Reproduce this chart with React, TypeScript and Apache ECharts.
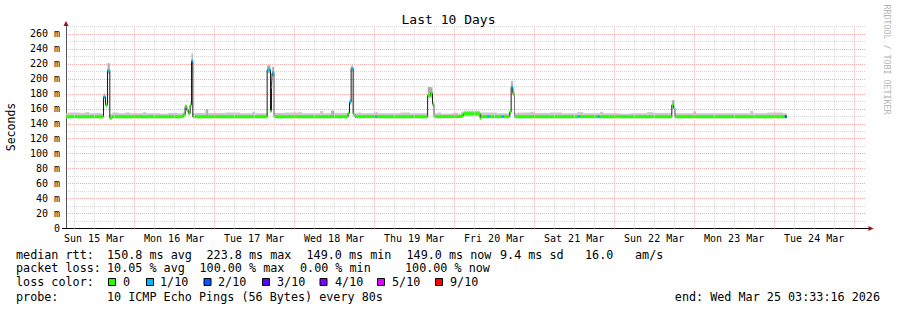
import React, { useEffect, useRef } from 'react';
import * as echarts from 'echarts';

// ---------- texts ----------
const TITLE = 'Last 10 Days';
const Y_NAME = 'Seconds';
const WATERMARK = 'RRDTOOL / TOBI OETIKER';

// ---------- axes (hours since Sun 15 Mar 2026 00:00) ----------
const X_MIN = 3.5544; // Sun 15 Mar 03:33:16
const X_MAX = 243.5544; // Wed 25 Mar 03:33:16
const Y_MIN = 0;
const Y_MAX = 270;
const Y_STEP = 10;

const dayLabels = ['Sun 15 Mar', 'Mon 16 Mar', 'Tue 17 Mar', 'Wed 18 Mar', 'Thu 19 Mar', 'Fri 20 Mar', 'Sat 21 Mar', 'Sun 22 Mar', 'Mon 23 Mar', 'Tue 24 Mar'];
const dayNoonHours = [12, 36, 60, 84, 108, 132, 156, 180, 204, 228];
const gridHours = [6, 12, 18, 24, 30, 36, 42, 48, 54, 60, 66, 72, 78, 84, 90, 96, 102, 108, 114, 120, 126, 132, 138, 144, 150, 156, 162, 168, 174, 180, 186, 192, 198, 204, 210, 216, 222, 228, 234, 240];
const midnightHours = [24, 48, 72, 96, 120, 144, 168, 192, 216, 240];

// ---------- median rtt (ms), step start times, loss in tenths ----------
const medianTimes = [3.6, 14.8, 15.4, 16.0, 16.7, 17.4, 38.7, 39.3, 39.8, 40.3, 40.8, 41.2, 41.6, 63.9, 64.9, 65.2, 65.4, 66.0, 88.2, 88.6, 89.1, 89.7, 90.2, 96.3, 96.8, 112.05, 112.9, 113.5, 114.0, 122.1, 122.8, 127.8, 128.1, 130.0, 130.6, 134.3, 134.9, 136.7, 137.1, 137.6, 138.1, 157.1, 157.7, 163.1, 163.7, 185.3, 185.8, 186.2, 219.2];
const medianValues = [149.5, 176, 165, 211, 147.5, 149.5, 152, 163, 158, 154, 165, 224, 149.5, 212, 157, 189, 208, 149.5, 154, 169, 214, 153, 149.5, 149.5, 149.5, 178, 181, 166, 149.5, 151, 153.5, 147.5, 149.5, 149.5, 149.5, 149.5, 149.5, 156, 189, 180.5, 149.5, 149.5, 149.5, 149.5, 149.5, 165, 161, 149.5, 149.5];
const medianLoss = [0, 1, 0, 1, 0, 0, 0, 0, 0, 0, 0, 1, 0, 1, 0, 0, 1, 0, 0, 1, 1, 0, 0, 1, 0, 0, 0, 0, 0, 0, 0, 0, 0, 1, 0, 1, 0, 0, 1, 0, 0, 1, 0, 1, 0, 0, 1, 0, 2];
const MEDIAN_END = 219.8;

// ---------- smoke (ms): step start, low, high ----------
const smokeTimes = [3.6, 4.2, 7.8, 9.3, 10.5, 12.9, 14.1, 14.8, 15.4, 16.0, 16.7, 17.4, 19.2, 21.3, 22.8, 26.7, 27.6, 31.8, 34.2, 37.2, 38.7, 39.3, 39.8, 40.3, 40.8, 41.2, 41.6, 42.0, 45.45, 46.2, 51.3, 55.8, 59.4, 60.3, 63.9, 64.9, 65.2, 65.4, 66.0, 69.3, 73.2, 74.4, 79.8, 80.7, 83.1, 84.0, 88.2, 88.6, 89.1, 89.7, 90.2, 90.9, 92.1, 96.3, 97.2, 103.8, 106.8, 112.05, 113.5, 114.0, 115.2, 116.1, 119.4, 121.2, 122.1, 122.8, 127.8, 132.9, 136.7, 137.1, 137.6, 138.1, 138.9, 142.8, 144.0, 148.8, 152.4, 156.9, 158.7, 163.8, 164.7, 169.8, 172.8, 177.9, 179.7, 185.3, 186.2, 186.9, 191.7, 192.6, 208.8, 209.7, 213.9, 218.7];
const smokeLows = [148, 148, 148, 148, 148, 148, 148, 173, 162, 207, 148, 148, 148, 148, 148, 148, 148, 148, 148, 148, 149, 160, 155, 151, 162, 220, 148, 148, 148, 148, 148, 148, 148, 148, 208, 154, 186, 204, 148, 148, 148, 148, 148, 148, 148, 148, 151, 165, 210, 150, 148, 148, 148, 148, 148, 148, 148, 175, 163, 148, 148, 148, 148, 148, 148, 150, 148, 148, 153, 185, 177, 148, 148, 148, 148, 148, 148, 148, 148, 148, 148, 148, 148, 148, 148, 162, 148, 148, 148, 148, 148, 148, 148, 148];
const smokeHighs = [154, 155, 154.5, 155.5, 154, 154.5, 153.5, 181, 168, 221, 153, 155, 154, 155, 154, 155.5, 154, 153.5, 154.5, 154, 156, 166, 160, 157, 168, 234, 154, 154.5, 159.5, 154.5, 155, 154, 156, 154, 218, 160, 192, 216, 154.5, 155, 155.5, 154, 157, 154, 157.5, 154.5, 157, 173, 218, 157, 154, 155, 154, 155.5, 154, 155, 154, 189, 169, 154, 155, 153.5, 154.5, 153.5, 156, 157.5, 155, 154, 160, 197, 184, 154.5, 155, 156, 154.5, 155, 154, 155.5, 154, 156, 154, 153.5, 154, 155.5, 154.5, 171.5, 154.5, 154, 156.5, 154, 157, 154, 155, 154];
const SMOKE_END = 219.8;

// ---------- legend texts ----------
const lossColorMap: Record<number, string> = { 0: '#26ff00', 1: '#00b8ff', 2: '#0059ff', 3: '#5e00ff', 4: '#7e00ff', 5: '#dd00ff', 9: '#ff0000' };
const lossLegendLabels = ['0', '1/10', '2/10', '3/10', '4/10', '5/10', '9/10'];
const lossLegendColors = ['#26ff00', '#00b8ff', '#0059ff', '#5e00ff', '#7e00ff', '#dd00ff', '#ff0000'];
const rttStats = ['150.8 ms avg', '223.8 ms max', '149.0 ms min', '149.0 ms now', '9.4 ms sd', '16.0', 'am/s'];
const lossStats = ['10.05 % avg', '100.00 % max', '0.00 % min', '100.00 % now'];
const probeText = '10 ICMP Echo Pings (56 Bytes) every 80s';
const endText = 'end: Wed Mar 25 03:33:16 2026';

// ---------- layout ----------
const MONO = '"DejaVu Sans Mono", monospace';
const MAJOR = '#f6abab';
const MINOR = '#d8d8d8';
const rttX = [107, 206.5, 306.5, 406.5, 500, 585, 635];
const lossX = [107, 199.5, 300, 405];
const boxX = [108, 146, 203.5, 262, 319.5, 377, 435];
const boxLabelX = [123, 160, 218, 277, 335, 392, 450];

export default function App() {
  const ref = useRef<HTMLDivElement>(null);

  useEffect(() => {
    if (!ref.current) return;
    const chart = echarts.init(ref.current, null, { renderer: 'svg' });

    const medianLine: number[][] = medianTimes.map((t, i) => [t, medianValues[i]]);
    medianLine.push([MEDIAN_END, medianValues[medianValues.length - 1]]);

    const medianSteps = medianTimes.map((t, i) => [
      t,
      i + 1 < medianTimes.length ? medianTimes[i + 1] : MEDIAN_END,
      medianValues[i],
      medianLoss[i],
    ]);
    const smokeSteps = smokeTimes.map((t, i) => [
      t,
      i + 1 < smokeTimes.length ? smokeTimes[i + 1] : SMOKE_END,
      smokeHighs[i],
      smokeLows[i],
    ]);

    const option: any = {
      animation: false,
      backgroundColor: '#ffffff',
      grid: { left: 66, right: 31, top: 26.5, bottom: 81.5, containLabel: false },
      xAxis: {
        type: 'value',
        min: X_MIN,
        max: X_MAX,
        axisLine: { show: true, onZero: false, lineStyle: { color: '#000', width: 1 } },
        axisTick: { show: false },
        splitLine: { show: false },
        axisLabel: {
          customValues: dayNoonHours,
          hideOverlap: false,
          margin: 5,
          color: '#000',
          fontFamily: MONO,
          fontSize: 10,
          formatter: (v: number) => {
            const i = dayNoonHours.indexOf(Math.round(v));
            return i >= 0 ? dayLabels[i] : '';
          },
        },
      },
      yAxis: {
        type: 'value',
        min: Y_MIN,
        max: Y_MAX,
        interval: Y_STEP,
        axisLine: { show: true, lineStyle: { color: '#555', width: 1 } },
        axisTick: { show: false },
        splitLine: { show: true, lineStyle: { color: [MAJOR, MINOR], type: [1, 1], width: 1 } },
        axisLabel: {
          margin: 6,
          color: '#000',
          fontFamily: MONO,
          fontSize: 10,
          formatter: (v: number) => (v % 20 === 0 ? (v === 0 ? '0' : v + ' m') : ''),
        },
      },
      series: [
        {
          type: 'line',
          data: [[X_MIN, Y_MIN]],
          symbol: 'none',
          lineStyle: { opacity: 0 },
          silent: true,
          z: 1,
          markLine: {
            silent: true,
            symbol: ['none', 'none'],
            label: { show: false },
            emphasis: { disabled: true },
            data: gridHours.map((h) => ({
              xAxis: h,
              lineStyle: { color: midnightHours.includes(h) ? MAJOR : MINOR, type: [1, 1], width: 1 },
            })),
          },
        },
        {
          type: 'custom',
          z: 2,
          silent: true,
          encode: { x: [0, 1], y: [2, 3] },
          data: smokeSteps,
          renderItem: (_p: any, api: any) => {
            const a = api.coord([api.value(0), api.value(2)]);
            const b = api.coord([api.value(1), api.value(3)]);
            const tall = api.value(2) - api.value(3) > 9;
            return {
              type: 'rect',
              shape: { x: a[0], y: a[1], width: b[0] - a[0], height: b[1] - a[1] },
              style: { fill: tall ? '#aeaeae' : '#c8c8c8' },
            };
          },
        },
        {
          type: 'line',
          z: 3,
          silent: true,
          data: medianLine,
          step: 'end',
          symbol: 'none',
          lineStyle: { color: '#1a1a1a', width: 1 },
        },
        {
          type: 'custom',
          z: 4,
          silent: true,
          encode: { x: [0, 1], y: 2 },
          data: medianSteps,
          renderItem: (_p: any, api: any) => {
            const a = api.coord([api.value(0), api.value(2)]);
            const b = api.coord([api.value(1), api.value(2)]);
            return {
              type: 'rect',
              shape: { x: a[0], y: a[1] - 1.5, width: b[0] - a[0], height: 3 },
              style: { fill: lossColorMap[api.value(3)] || '#26ff00' },
            };
          },
        },
      ],
    };
    chart.setOption(option);

    const pTop = chart.convertToPixel({ gridIndex: 0 }, [X_MIN, Y_MAX]) as number[];
    const pRight = chart.convertToPixel({ gridIndex: 0 }, [X_MAX, Y_MIN]) as number[];
    const pLeft = chart.convertToPixel({ gridIndex: 0 }, [X_MIN, Y_MIN]) as number[];
    const ARROW = '#9a1010';

    const txt = (text: string, x: number, y: number, extra: any = {}) => ({
      type: 'text',
      x,
      y,
      silent: true,
      style: { text, fill: '#000', fontFamily: MONO, fontSize: 11.75, align: 'left', verticalAlign: 'middle', ...extra },
    });

    const graphic: any[] = [
      txt(TITLE, 448.5, 19, { align: 'center', fontSize: 13 }),
      { ...txt(Y_NAME, 11, 127, { align: 'center', fontSize: 11.5 }), rotation: Math.PI / 2 },
      { ...txt(WATERMARK, 887, 59.5, { align: 'center', fontSize: 8.3, fill: '#b4b4b4' }), rotation: -Math.PI / 2 },
      // axis extensions & arrows
      { type: 'line', silent: true, shape: { x1: pLeft[0] - 4, y1: pLeft[1], x2: pLeft[0], y2: pLeft[1] }, style: { stroke: '#000', lineWidth: 1 } },
      { type: 'line', silent: true, shape: { x1: pRight[0], y1: pRight[1], x2: pRight[0] + 3, y2: pRight[1] }, style: { stroke: '#000', lineWidth: 1 } },
      { type: 'polygon', silent: true, shape: { points: [[pRight[0] + 2.5, pRight[1] - 2.5], [pRight[0] + 2.5, pRight[1] + 2.5], [pRight[0] + 7.5, pRight[1]]] }, style: { fill: ARROW } },
      { type: 'polygon', silent: true, shape: { points: [[pTop[0] - 2.5, pTop[1] - 0.5], [pTop[0] + 2.5, pTop[1] - 0.5], [pTop[0], pTop[1] - 5.5]] }, style: { fill: ARROW } },
      // legend rows
      txt('median rtt:', 16, 254.5),
      ...rttStats.map((s, i) => txt(s, rttX[i], 254.5)),
      txt('packet loss:', 16, 268),
      ...lossStats.map((s, i) => txt(s, lossX[i], 268)),
      txt('loss color:', 16, 282),
      ...lossLegendLabels.map((s, i) => txt(s, boxLabelX[i], 282)),
      ...lossLegendColors.map((c, i) => ({
        type: 'rect',
        silent: true,
        shape: { x: boxX[i] + 0.5, y: 278.5, width: 7, height: 7 },
        style: { fill: c, stroke: '#000', lineWidth: 1 },
      })),
      txt('probe:', 16, 296.5),
      txt(probeText, 107, 296.5),
      txt(endText, 880, 296.5, { align: 'right' }),
    ];
    chart.setOption({ graphic });

    return () => chart.dispose();
  }, []);

  return (
    <div
      ref={ref}
      style={{ position: 'fixed', left: 0, top: 0, width: 897, height: 310, background: '#fff' }}
    />
  );
}
